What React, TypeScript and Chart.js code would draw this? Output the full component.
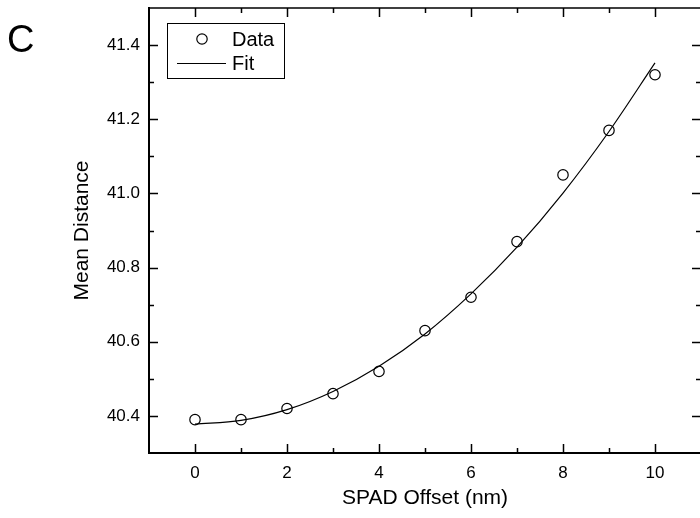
import React, { useEffect, useRef } from 'react';
import { Chart, registerables } from 'chart.js';

Chart.register(...registerables);

// ---- data ----
const spadOffset = [0, 1, 2, 3, 4, 5, 6, 7, 8, 9, 10];
const meanDistance = [40.39, 40.39, 40.42, 40.46, 40.52, 40.63, 40.72, 40.87, 41.05, 41.17, 41.32];
const fitOffset = [0, 1, 2, 3, 4, 5, 6, 7, 8, 9, 10];
const fitDistance = [40.378, 40.388, 40.417, 40.466, 40.534, 40.621, 40.729, 40.855, 41.001, 41.167, 41.352];

const xMajorTicks = [0, 2, 4, 6, 8, 10];
const xMinorTicks = [1, 3, 5, 7, 9];
const yMajorTicks = [40.4, 40.6, 40.8, 41.0, 41.2, 41.4];
const yMinorTicks = [40.5, 40.7, 40.9, 41.1, 41.3];

const panelLabel = 'C';
const xTitle = 'SPAD Offset (nm)';
const yTitle = 'Mean Distance';

const FONT = "'Liberation Sans', Arial, Helvetica, sans-serif";

const framePlugin = {
  id: 'originFrame',
  afterDatasetsDraw(chart: any) {
    const { ctx, chartArea } = chart;
    const { left, right, top, bottom } = chartArea;
    const xs = chart.scales.x;
    const ys = chart.scales.y;
    ctx.save();
    ctx.strokeStyle = '#000';
    ctx.lineCap = 'butt';
    // frame
    ctx.lineWidth = 1.5;
    ctx.beginPath();
    ctx.moveTo(left, top);
    ctx.lineTo(right, top);
    ctx.moveTo(right, top);
    ctx.lineTo(right, bottom);
    ctx.stroke();
    ctx.lineWidth = 2;
    ctx.beginPath();
    ctx.moveTo(left, top - 1);
    ctx.lineTo(left, bottom + 1);
    ctx.moveTo(left - 1, bottom);
    ctx.lineTo(right, bottom);
    ctx.stroke();
    // ticks (inward)
    ctx.lineWidth = 1.5;
    const major = 9;
    const minor = 5;
    ctx.beginPath();
    const xt = (v: number, len: number) => {
      const px = Math.round(xs.getPixelForValue(v)) + 0.5;
      ctx.moveTo(px, bottom);
      ctx.lineTo(px, bottom - len);
      ctx.moveTo(px, top);
      ctx.lineTo(px, top + len);
    };
    const yt = (v: number, len: number) => {
      const py = Math.round(ys.getPixelForValue(v)) + 0.5;
      ctx.moveTo(left, py);
      ctx.lineTo(left + len, py);
      ctx.moveTo(right, py);
      ctx.lineTo(right - len, py);
    };
    xMajorTicks.forEach((v) => xt(v, major));
    xMinorTicks.forEach((v) => xt(v, minor));
    yMajorTicks.forEach((v) => yt(v, major));
    yMinorTicks.forEach((v) => yt(v, minor));
    ctx.stroke();
    ctx.restore();
  },
  afterDraw(chart: any) {
    const { ctx, chartArea } = chart;
    const { left, top } = chartArea;
    ctx.save();
    // panel label
    ctx.fillStyle = '#000';
    ctx.font = `38px ${FONT}`;
    ctx.textBaseline = 'alphabetic';
    ctx.textAlign = 'left';
    ctx.fillText(panelLabel, 7, 52);
    // legend box
    const bx = left + 18;
    const by = top + 15;
    const bw = 117;
    const bh = 55;
    ctx.fillStyle = '#fff';
    ctx.fillRect(bx, by, bw, bh);
    ctx.strokeStyle = '#000';
    ctx.lineWidth = 1;
    ctx.strokeRect(bx + 0.5, by + 0.5, bw, bh);
    const ds = chart.data.datasets;
    ctx.font = `20px ${FONT}`;
    ctx.fillStyle = '#000';
    ctx.textBaseline = 'middle';
    // Data entry
    ctx.lineWidth = 1.2;
    ctx.beginPath();
    ctx.arc(bx + 35, by + 16, 5.2, 0, Math.PI * 2);
    ctx.stroke();
    ctx.fillText(ds[0].label, bx + 65, by + 17);
    // Fit entry
    ctx.lineWidth = 1.2;
    ctx.beginPath();
    ctx.moveTo(bx + 10, by + 40.5);
    ctx.lineTo(bx + 59, by + 40.5);
    ctx.stroke();
    ctx.fillText(ds[1].label, bx + 65, by + 41);
    ctx.restore();
  },
};

export default function App() {
  const ref = useRef<HTMLCanvasElement>(null);
  useEffect(() => {
    const canvas = ref.current;
    if (!canvas) return;
    const chart = new Chart(canvas, {
      type: 'scatter',
      data: {
        datasets: [
          {
            label: 'Data',
            data: spadOffset.map((x, i) => ({ x, y: meanDistance[i] })),
            pointRadius: 5.2,
            pointBorderWidth: 1.2,
            pointBorderColor: '#000',
            pointBackgroundColor: 'rgba(0,0,0,0)',
            borderColor: '#000',
            backgroundColor: 'rgba(0,0,0,0)',
            showLine: false,
          },
          {
            label: 'Fit',
            type: 'line',
            data: fitOffset.map((x, i) => ({ x, y: fitDistance[i] })),
            borderColor: '#000',
            borderWidth: 1.2,
            pointRadius: 0,
            fill: false,
            cubicInterpolationMode: 'monotone',
          } as any,
        ],
      },
      options: {
        animation: false,
        responsive: false,
        devicePixelRatio: 1,
        layout: { padding: { top: 8, right: 9, left: 0, bottom: 0 } },
        plugins: {
          legend: { display: false },
          tooltip: { enabled: false },
          title: { display: false },
        },
        scales: {
          x: {
            type: 'linear',
            min: -1,
            max: 11,
            afterFit: (s: any) => {
              s.height = 65;
              s.paddingLeft = 0;
              s.paddingRight = 0;
            },
            afterBuildTicks: (s: any) => {
              s.ticks = xMajorTicks.map((v) => ({ value: v }));
            },
            grid: { display: false, drawTicks: false },
            border: { display: false },
            ticks: {
              color: '#000',
              font: { family: FONT, size: 17 },
              padding: 10,
              maxRotation: 0,
              callback: (v: any) => String(v),
            },
            title: {
              display: true,
              text: xTitle,
              color: '#000',
              font: { family: FONT, size: 21 },
              padding: { top: 0, bottom: 7 },
            },
          },
          y: {
            type: 'linear',
            min: 40.3,
            max: 41.5,
            afterFit: (s: any) => {
              s.width = 149;
              s.paddingTop = 0;
              s.paddingBottom = 0;
            },
            afterBuildTicks: (s: any) => {
              s.ticks = yMajorTicks.map((v) => ({ value: v }));
            },
            grid: { display: false, drawTicks: false },
            border: { display: false },
            ticks: {
              color: '#000',
              font: { family: FONT, size: 17 },
              padding: 9,
              callback: (v: any) => Number(v).toFixed(1),
            },
            title: {
              display: true,
              text: yTitle,
              color: '#000',
              font: { family: FONT, size: 21 },
              padding: { top: 70, bottom: 0 },
            },
          },
        },
      },
      plugins: [framePlugin],
    } as any);
    return () => chart.destroy();
  }, []);
  return (
    <div
      style={{
        position: 'fixed',
        left: 0,
        top: 0,
        width: 700,
        height: 518,
        overflow: 'hidden',
        background: '#fff',
      }}
    >
      <canvas ref={ref} width={710} height={518} style={{ width: 710, height: 518, display: 'block' }} />
    </div>
  );
}
